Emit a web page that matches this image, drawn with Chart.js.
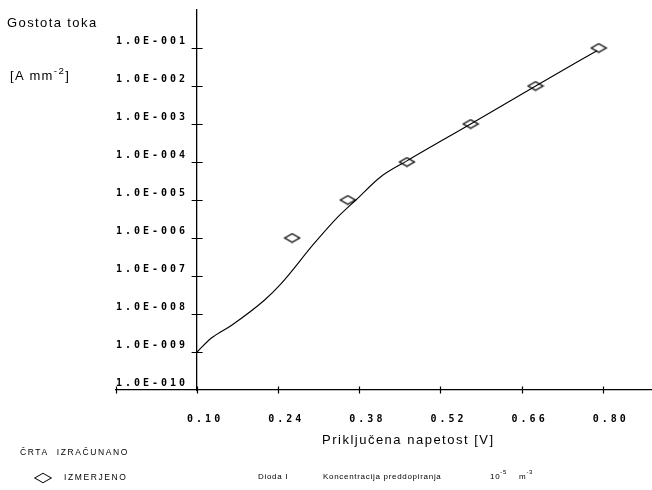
<!DOCTYPE html>
<html>
<head>
<meta charset="utf-8">
<script src="https://cdn.jsdelivr.net/npm/chart.js@4.4.1/dist/chart.umd.min.js"></script>
<style>
html,body{margin:0;padding:0;background:#fff;}
#wrap{position:relative;width:652px;height:490px;overflow:hidden;}
#c{position:absolute;left:0;top:0;}
.t{position:absolute;font-family:"Liberation Sans",Arial,sans-serif;color:#000;white-space:nowrap;line-height:1;}
.big{font-size:13px;letter-spacing:1.4px;}
.sm{font-size:8.5px;letter-spacing:1.6px;}
.xs{font-size:8px;letter-spacing:0.7px;}
sup{font-size:75%;position:relative;top:-1px;vertical-align:super;line-height:0;}
#dia{position:absolute;left:38px;top:473px;width:10px;height:10px;border:1.3px solid #000;transform:scaleX(1.3) scaleY(0.75) rotate(45deg);box-sizing:border-box;}
</style>
</head>
<body>
<div id="wrap">
<canvas id="c" width="652" height="490"></canvas>
<div class="t big" style="left:7px;top:16px;">Gostota toka</div>
<div class="t big" style="left:10px;top:69px;">[A mm<sup>-2</sup>]</div>
<div class="t" style="left:322px;top:433px;font-size:13px;letter-spacing:1.5px;">Priključena napetost [V]</div>
<div class="t sm" style="left:20px;top:448px;">ČRTA&nbsp; IZRAČUNANO</div>
<div id="dia"></div>
<div class="t sm" style="left:64px;top:473px;">IZMERJENO</div>
<div class="t xs" style="left:258px;top:473px;">Dioda I</div>
<div class="t xs" style="left:323px;top:473px;">Koncentracija preddopiranja</div>
<div class="t xs" style="left:490px;top:473px;">10<sup>-5</sup></div>
<div class="t xs" style="left:519px;top:473px;">m<sup>-3</sup></div>
</div>
<script>
// ---- data ----
const curveV = [0.10, 0.124, 0.159, 0.216, 0.245, 0.302, 0.343, 0.374, 0.417, 0.462, 0.572, 0.685, 0.79];
const curveJ = [1e-9, 2.3e-9, 5.0e-9, 2.3e-8, 6.3e-8, 7.2e-7, 3.6e-6, 1.0e-5, 4.1e-5, 1.07e-4, 1.0e-3, 1.02e-2, 8.5e-2];
const measV = [0.264, 0.360, 0.462, 0.572, 0.684, 0.793];
const measJ = [1e-6, 1e-5, 1e-4, 1e-3, 1e-2, 1e-1];
const xTickValues = [-0.04, 0.10, 0.24, 0.38, 0.52, 0.66, 0.80];
const xTickLabels = ['', '0.10', '0.24', '0.38', '0.52', '0.66', '0.80'];
const yTickValues = [1e-10, 1e-9, 1e-8, 1e-7, 1e-6, 1e-5, 1e-4, 1e-3, 1e-2, 1e-1];
const yTickLabels = ['1.0E-010', '1.0E-009', '1.0E-008', '1.0E-007', '1.0E-006', '1.0E-005', '1.0E-004', '1.0E-003', '1.0E-002', '1.0E-001'];

// diamond marker image (flattened)
const dm = document.createElement('canvas');
dm.width = 18; dm.height = 11;
(function(){
  const g = dm.getContext('2d');
  g.strokeStyle = '#000'; g.lineWidth = 1.3;
  g.beginPath();
  g.moveTo(1.5, 5.5); g.lineTo(9, 1.2); g.lineTo(16.5, 5.5); g.lineTo(9, 9.8); g.closePath();
  g.stroke();
})();

const tickFont = {family: '"DejaVu Sans Mono", monospace', size: 10, weight: 'bold'};

const spacingPlugin = {
  id: 'spacing',
  beforeDraw(chart) { chart.ctx.letterSpacing = '3px'; },
  beforeDatasetsDraw(chart) { chart.ctx.letterSpacing = '0px'; }
};
const crossTicks = {
  id: 'crossTicks',
  afterDraw(chart) {
    const ctx = chart.ctx, xs = chart.scales.x, ys = chart.scales.y;
    const ax = xs.getPixelForValue(0.10), ay = ys.getPixelForValue(1e-10);
    ctx.save();
    ctx.strokeStyle = '#000'; ctx.lineWidth = 1.2;
    ctx.beginPath();
    xTickValues.forEach(v => { const p = Math.round(xs.getPixelForValue(v)) + 0.5; ctx.moveTo(p, ay - 3.5); ctx.lineTo(p, ay + 3.5); });
    yTickValues.slice(1).forEach(v => { const p = Math.round(ys.getPixelForValue(v)) + 0.5; ctx.moveTo(ax - 5.5, p); ctx.lineTo(ax + 5.5, p); });
    ctx.stroke();
    ctx.restore();
  }
};

new Chart(document.getElementById('c'), {
  data: {
    datasets: [
      {
        type: 'line', label: 'IZRAČUNANO',
        data: curveV.map((v, i) => ({x: v, y: curveJ[i]})),
        borderColor: '#000', borderWidth: 1.1, pointRadius: 0, fill: false,
        cubicInterpolationMode: 'monotone'
      },
      {
        type: 'scatter', label: 'IZMERJENO',
        data: measV.map((v, i) => ({x: v, y: measJ[i]})),
        pointStyle: dm, pointRadius: 6, borderColor: '#000'
      }
    ]
  },
  options: {
    responsive: false, animation: false,
    layout: {autoPadding: false, padding: {left: 116, right: 0, top: 10, bottom: 0}},
    plugins: {legend: {display: false}, tooltip: {enabled: false}},
    scales: {
      x: {
        type: 'linear', position: 'bottom', min: -0.04, max: 0.885,
        afterBuildTicks: s => { s.ticks = xTickValues.map(v => ({value: v})); },
        afterFit: s => { s.height = 100; s.paddingLeft = 0; s.paddingRight = 0; },
        ticks: {autoSkip: false, maxRotation: 0, padding: 23, labelOffset: 8, color: '#000', font: tickFont,
                callback: (v, i) => xTickLabels[i]},
        grid: {display: false, drawTicks: false},
        border: {display: true, color: '#000', width: 1.3}
      },
      y: {
        type: 'logarithmic', position: {x: 0.10}, min: 1e-10, max: 1,
        afterBuildTicks: s => { s.ticks = yTickValues.map(v => ({value: v})); },
        afterFit: s => { s.paddingTop = 0; s.paddingBottom = 0; s.paddingLeft = 0; s.paddingRight = 0; },
        ticks: {autoSkip: false, padding: 0, labelOffset: -7, color: '#000', font: tickFont,
                callback: (v, i) => yTickLabels[i] + ' '},
        grid: {display: false, drawTicks: false},
        border: {display: true, color: '#000', width: 1.3}
      }
    }
  },
  plugins: [spacingPlugin, crossTicks]
});
</script>
</body>
</html>
